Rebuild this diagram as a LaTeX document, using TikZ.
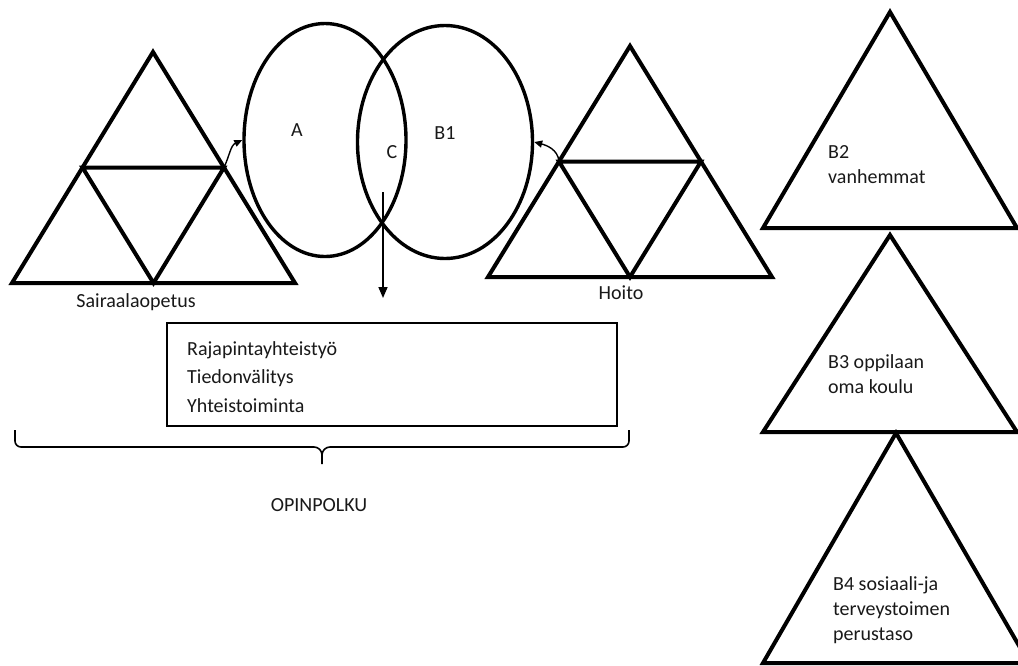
\documentclass[tikz,border=0pt]{standalone}
\usepackage{fontspec}
\setmainfont{Carlito}
\usetikzlibrary{arrows.meta,shapes.geometric,calc}
\begin{document}
\begin{tikzpicture}[x=1pt,y=-1pt,
  tri/.style={line width=4pt, line join=miter},
  oval/.style={draw, ellipse, line width=3.4pt, inner sep=0pt},
  lbl/.style={font=\fontsize{20}{25}\selectfont, text=black!90, inner sep=0pt},
  link/.style={line width=1.6pt, -{Triangle[length=11pt,width=9pt]}},
  smalllink/.style={line width=1.4pt, -{Triangle[length=8pt,width=7pt]}},
  bracepath/.style={line width=1.6pt, line join=round},
]
\clip (0,0) rectangle (1018,665);
\fill[white] (0,0) rectangle (1018,665);

% --- left subdivided triangle: Sairaalaopetus
\coordinate (s1) at (153,52);
\coordinate (s2) at (12,283);
\coordinate (s3) at (295,283);
\coordinate (s12) at ($(s1)!0.5!(s2)$);
\coordinate (s13) at ($(s1)!0.5!(s3)$);
\coordinate (s23) at ($(s2)!0.5!(s3)$);
\draw[tri] (s1) -- (s2) -- (s3) -- cycle;
\draw[tri] (s12) -- (s13) -- (s23) -- cycle;
\node[lbl] (sair) at (136,302) {Sairaalaopetus};

% --- right subdivided triangle: Hoito
\coordinate (h1) at (630,46);
\coordinate (h2) at (488,277);
\coordinate (h3) at (772,277);
\coordinate (h12) at ($(h1)!0.5!(h2)$);
\coordinate (h13) at ($(h1)!0.5!(h3)$);
\coordinate (h23) at ($(h2)!0.5!(h3)$);
\draw[tri] (h1) -- (h2) -- (h3) -- cycle;
\draw[tri] (h12) -- (h13) -- (h23) -- cycle;
\node[lbl] (hoito) at (621,293) {Hoito};

% --- overlapping ovals
\node[oval, minimum width=162pt, minimum height=233pt] (A) at (325,140) {};
\node[oval, minimum width=175pt, minimum height=233pt] (B) at (445,142) {};
\node[lbl] (tA) at (297,130) {A};
\node[lbl] (tC) at (392,152) {C};
\node[lbl] (tB) at (445,133) {B1};

% --- connectors
\draw[smalllink] (s13) to[out=65,in=205] (A.west);
\draw[smalllink] (h12) to[out=95,in=-15] (B.east);
\coordinate (cstart) at (383,192);
\coordinate (cend) at (383,298);
\draw[link] (cstart) -- (cend);

% --- box with forms of cooperation
\node[draw, line width=1.9pt, minimum width=450pt, minimum height=103pt, inner sep=0pt] (box) at (392,374.5) {};
\node[lbl, align=left, anchor=west, font=\fontsize{20}{28.5}\selectfont] (boxtext) at (187,377)
  {Rajapintayhteistyö\\Tiedonvälitys\\Yhteistoiminta};

% --- brace and OPINPOLKU
\coordinate (bl) at (15,430);
\coordinate (br) at (629,430);
\coordinate (btip) at (322,464);
\draw[bracepath] (bl) -- (15,441) to[out=-90,in=180] (21,447) -- (314,447)
  to[out=0,in=90] (322,455) -- (btip);
\draw[bracepath] (322,455) to[out=90,in=180] (330,447) -- (623,447)
  to[out=0,in=-90] (629,441) -- (br);
\node[lbl] (opin) at (319,505) {OPINPOLKU};

% --- stacked triangles on the right
\coordinate (p1) at (890,12);
\coordinate (p2) at (763,228);
\coordinate (p3) at (1017,228);
\draw[tri] (p1) -- (p2) -- (p3) -- cycle;
\node[lbl, align=left, anchor=west] (b2) at (828,165) {B2\\vanhemmat};

\coordinate (q1) at (890,235);
\coordinate (q2) at (763,432);
\coordinate (q3) at (1017,432);
\draw[tri] (q1) -- (q2) -- (q3) -- cycle;
\node[lbl, align=left, anchor=west] (b3) at (828,374) {B3 oppilaan\\oma koulu};

\coordinate (r1) at (896,433);
\coordinate (r2) at (763,663);
\coordinate (r3) at (1029,663);
\draw[tri] (r1) -- (r2) -- (r3) -- cycle;
\node[lbl, align=left, anchor=west] (b4) at (833,610) {B4 sosiaali-ja\\terveystoimen\\perustaso};
\end{tikzpicture}
\end{document}
